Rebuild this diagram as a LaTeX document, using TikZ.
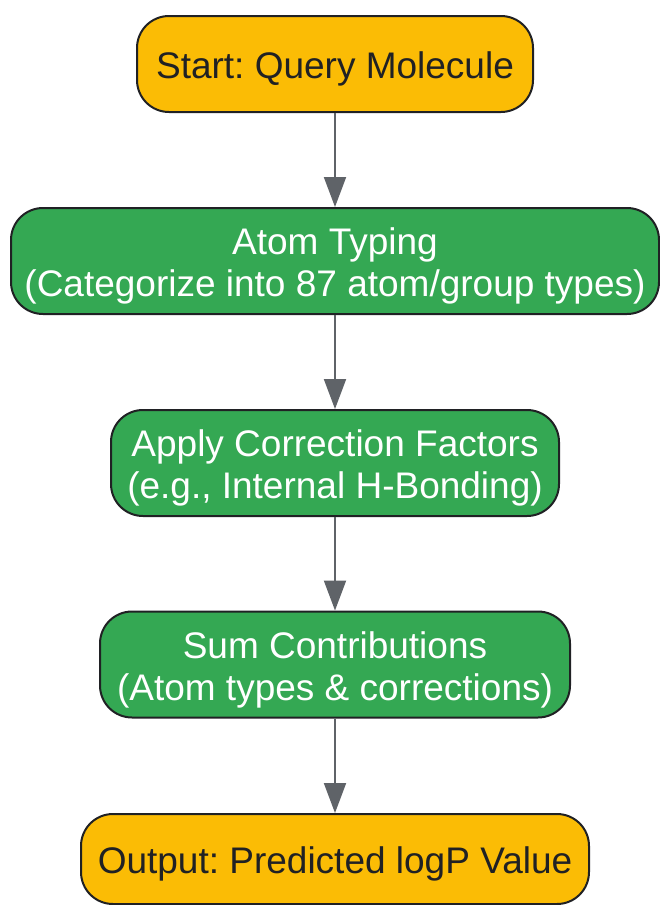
\documentclass[tikz,border=0pt]{standalone}
\usepackage{fontspec}
\setmainfont{Liberation Sans}
\usepackage{tikz}
\usetikzlibrary{arrows.meta}
\definecolor{termfill}{HTML}{FBBC05}
\definecolor{stepfill}{HTML}{34A853}
\definecolor{edgeline}{HTML}{202124}
\definecolor{arrowgray}{HTML}{5F6368}
\frenchspacing
% box text, lowered a little inside its shape
\newcommand\boxlines[1]{\raisebox{-6.5pt}[\height][\depth]{\begin{tabular}{@{}c@{}}#1\end{tabular}}}

\begin{document}
\begin{tikzpicture}[x=1pt, y=-1pt,
    box/.style={draw=edgeline, line width=2pt, rounded corners=32pt,
      font=\fontsize{37}{42}\selectfont, inner sep=0pt},
    terminal/.style={box, fill=termfill, text=edgeline},
    stepbox/.style={box, fill=stepfill, text=white},
    flow/.style={arrowgray, line width=2pt, -{Triangle[width=22pt,length=30pt]}}
  ]
  \useasboundingbox (0,0) rectangle (660,905);
  \node[terminal, minimum width=396pt, minimum height=96pt] (start) at (335,64)
    {\boxlines{Start: Query Molecule}};
  \node[stepbox, minimum width=648pt, minimum height=106pt] (typing) at (335,261)
    {\boxlines{Atom Typing\\(Categorize into 87 atom/group types)}};
  \node[stepbox, minimum width=448pt, minimum height=106pt] (correct) at (335,463)
    {\boxlines{Apply Correction Factors\\(e.g., Internal H-Bonding)}};
  \node[stepbox, minimum width=470pt, minimum height=106pt] (sum) at (335,664.5)
    {\boxlines{Sum Contributions\\(Atom types \& corrections)}};
  \node[terminal, minimum width=508pt, minimum height=90pt] (out) at (335,859)
    {\boxlines{Output: Predicted logP Value}};
  % arrows
  \draw[flow] (start) -- (typing);
  \draw[flow] (typing) -- (correct);
  \draw[flow] (correct) -- (sum);
  \draw[flow] (sum) -- (out);
\end{tikzpicture}
\end{document}
